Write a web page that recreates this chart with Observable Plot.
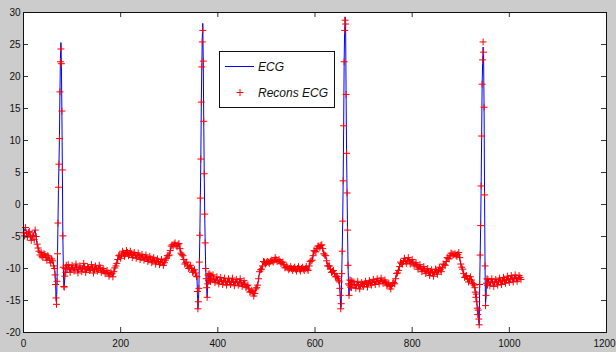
<!DOCTYPE html>
<html>
<head>
<meta charset="utf-8">
<script src="https://cdn.jsdelivr.net/npm/d3@7"></script>
<script src="https://cdn.jsdelivr.net/npm/@observablehq/plot@0.6"></script>
<style>
  body { margin: 0; background: #cccccc; }
  #wrap { position: relative; width: 616px; height: 352px; overflow: hidden; }
  #legend { position: absolute; left: 0; top: 0; pointer-events: none; }
</style>
</head>
<body>
<div id="wrap"></div>
<script>
// ---- original ECG (blue line): sample index and value ----
const ecgIdx = [
  0,4,8,12,16,20,24,28,32,36,40,44,48,52,56,60,64,
  65,66,67,68,69,70,71,72,73,74,75,76,77,78,79,80,81,82,83,84,85,86,87,88,
  92,96,100,104,108,112,116,120,124,128,132,136,140,144,148,152,156,160,164,168,
  172,176,180,184,188,192,196,200,204,208,212,216,220,224,228,232,236,240,244,248,
  252,256,260,264,268,272,276,280,284,288,292,296,300,304,308,312,316,320,324,328,
  332,336,340,344,348,352,356,
  357,358,359,360,361,362,363,364,365,366,367,368,369,370,371,372,373,374,375,376,
  377,378,379,380,381,382,383,384,385,386,
  390,394,398,402,406,410,414,418,422,426,430,434,438,442,446,450,454,458,462,466,
  470,474,478,482,486,490,494,498,502,506,510,514,518,522,526,530,534,538,542,546,
  550,554,558,562,566,570,574,578,582,586,590,594,598,602,606,610,614,618,622,626,
  630,634,638,642,646,
  649,650,651,652,653,654,655,656,657,658,659,660,661,662,663,664,665,666,667,668,
  669,670,671,672,673,674,675,676,
  680,684,688,692,696,700,704,708,712,716,720,724,728,732,736,740,744,748,752,756,
  760,764,768,772,776,780,784,788,792,796,800,804,808,812,816,820,824,828,832,836,
  840,844,848,852,856,860,864,868,872,876,880,884,888,892,896,900,904,908,912,916,
  920,924,928,
  929,930,931,932,933,934,935,936,937,938,939,940,941,942,943,944,945,946,947,948,
  949,950,951,952,953,954,955,956,
  960,964,968,972,976,980,984,988,992,996,1000,1004,1008,1012,1016,1020,1024
];
const ecgMv = [
  -4.4,-3.6,-5.1,-4.2,-5.6,-4.8,-4.0,-6.2,-7.3,-7.5,-8.3,-7.8,-8.7,-8.2,-9.1,-8.8,-10.0,
  -11.0,-12.5,-14.6,-15.6,-12.0,-7.7,-2.9,2.7,6.3,10.3,17.6,22.8,25.3,22.0,14.6,5.4,-4.9,-9.8,-12.8,-12.9,-11.2,-10.0,-10.6,-9.5,
  -9.4,-10.6,-9.5,-10.4,-9.3,-10.7,-9.6,-10.5,-9.2,-10.6,-9.7,-10.3,-9.4,-10.7,-9.6,-10.4,-9.5,-10.6,-10.0,-10.8,
  -10.3,-11.2,-10.6,-11.3,-9.9,-9.2,-8.0,-8.4,-7.3,-8.1,-7.2,-8.0,-7.3,-8.3,-7.5,-8.4,-7.6,-8.6,-7.8,-8.7,
  -7.9,-8.9,-8.1,-9.1,-8.3,-9.3,-8.5,-9.4,-8.6,-9.5,-8.7,-8.0,-7.9,-6.5,-6.5,-6.0,-6.6,-6.1,-7.6,-8.0,
  -9.3,-9.0,-10.0,-9.5,-10.6,-10.2,-11.2,
  -11.3,-13.6,-16.3,-15.2,-13.1,-9.0,-4.8,1.0,7.1,16.0,21.5,26.0,28.3,22.4,13.0,4.8,-1.5,-6.0,-10.0,-11.6,
  -13.0,-14.5,-12.4,-11.0,-11.9,-10.8,-11.8,-11.0,-12.0,-11.1,
  -11.0,-12.2,-11.3,-12.4,-11.4,-12.5,-11.5,-12.6,-11.6,-12.5,-11.5,-12.7,-11.7,-12.6,-11.6,-12.8,-11.9,-13.0,-12.6,-13.7,
  -13.4,-14.3,-13.2,-12.6,-10.5,-10.1,-8.9,-9.3,-8.9,-9.2,-8.7,-9.0,-8.3,-8.9,-8.6,-9.2,-9.0,-9.9,-9.6,-10.2,
  -9.7,-10.3,-9.8,-10.4,-9.7,-10.4,-9.8,-10.3,-9.7,-10.3,-8.9,-8.7,-7.2,-7.4,-6.5,-6.7,-6.3,-7.7,-8.0,-9.6,
  -9.6,-10.6,-10.3,-11.3,-11.3,
  -11.9,-12.1,-13.1,-14.2,-16.3,-15.5,-10.8,-7.3,-2.6,3.7,12.3,22.3,27.2,29.3,28.2,17.2,8.0,1.8,-4.0,-9.5,
  -12.4,-14.2,-12.6,-11.8,-12.9,-11.9,-13.0,-12.0,
  -12.1,-13.1,-12.0,-13.2,-12.2,-12.8,-12.0,-12.9,-11.9,-12.6,-11.7,-12.5,-11.6,-12.4,-11.5,-12.3,-11.8,-12.7,-12.3,-13.2,
  -12.3,-12.4,-10.8,-10.3,-9.0,-9.3,-8.4,-9.2,-8.3,-9.3,-8.6,-9.6,-9.1,-10.1,-9.4,-10.5,-9.7,-10.8,-10.0,-11.1,
  -10.2,-11.2,-10.1,-10.9,-9.8,-10.5,-9.3,-9.5,-8.3,-8.5,-7.6,-7.9,-7.7,-8.1,-7.5,-9.3,-10.1,-11.4,-11.1,-12.1,
  -11.3,-12.3,-12.6,
  -13.0,-13.7,-14.5,-14.0,-15.2,-16.2,-17.2,-16.5,-17.9,-18.8,-12.5,-7.9,-3.3,2.9,10.7,18.8,22.0,24.6,23.2,15.2,
  1.5,-9.6,-15.8,-14.2,-12.3,-11.6,-12.6,-11.7,
  -12.7,-11.6,-12.8,-11.7,-12.6,-11.5,-12.5,-11.4,-12.3,-11.2,-12.2,-11.1,-12.1,-11.0,-12.0,-11.1,-11.7
];

// ---- reconstructed ECG (red "+" markers): sample index and value ----
const reconIdx = [
  0,2,4,6,8,10,12,14,16,18,20,22,24,26,28,30,32,34,36,38,40,42,44,46,48,50,52,54,56,58,60,62,64,
  65,66,67,68,69,70,71,72,73,74,75,76,77,78,79,80,81,82,83,84,85,86,87,88,
  90,92,94,96,98,100,102,104,106,108,
  110,112,114,116,118,120,122,124,126,128,
  130,132,134,136,138,140,142,144,146,148,
  150,152,154,156,158,160,162,164,166,168,
  170,172,174,176,178,180,182,184,186,188,
  190,192,194,196,198,200,202,204,206,208,
  210,212,214,216,218,220,222,224,226,228,
  230,232,234,236,238,240,242,244,246,248,
  250,252,254,256,258,260,262,264,266,268,
  270,272,274,276,278,280,282,284,286,288,
  290,292,294,296,298,300,302,304,306,308,
  310,312,314,316,318,320,322,324,326,328,
  330,332,334,336,338,340,342,344,346,348,
  350,352,354,356,
  357,358,359,360,361,362,363,364,365,366,367,368,369,370,371,372,373,374,375,376,
  377,378,379,380,381,382,383,384,385,386,
  388,390,392,394,396,398,400,402,404,406,
  408,410,412,414,416,418,420,422,424,426,
  428,430,432,434,436,438,440,442,444,446,
  448,450,452,454,456,458,460,462,464,466,
  468,470,472,474,476,478,480,482,484,486,
  488,490,492,494,496,498,500,502,504,506,
  508,510,512,514,516,518,520,522,524,526,
  528,530,532,534,536,538,540,542,544,546,
  548,550,552,554,556,558,560,562,564,566,
  568,570,572,574,576,578,580,582,584,586,
  588,590,592,594,596,598,600,602,604,606,
  608,610,612,614,616,618,620,622,624,626,
  628,630,632,634,636,638,640,642,644,646,
  648,
  649,650,651,652,653,654,655,656,657,658,659,660,661,662,663,664,665,666,667,668,
  669,670,671,672,673,674,675,676,
  678,680,682,684,686,688,690,692,694,696,
  698,700,702,704,706,708,710,712,714,716,
  718,720,722,724,726,728,730,732,734,736,
  738,740,742,744,746,748,750,752,754,756,
  758,760,762,764,766,768,770,772,774,776,
  778,780,782,784,786,788,790,792,794,796,
  798,800,802,804,806,808,810,812,814,816,
  818,820,822,824,826,828,830,832,834,836,
  838,840,842,844,846,848,850,852,854,856,
  858,860,862,864,866,868,870,872,874,876,
  878,880,882,884,886,888,890,892,894,896,
  898,900,902,904,906,908,910,912,914,916,
  918,920,922,924,926,928,
  929,930,931,932,933,934,935,936,937,938,939,940,941,942,943,944,945,946,947,948,
  949,950,951,952,953,954,955,956,
  958,960,962,964,966,968,970,972,974,976,
  978,980,982,984,986,988,990,992,994,996,
  998,1000,1002,1004,1006,1008,1010,1012,1014,1016,
  1018,1020,1022,1024
];
const reconMv = [
  -4.4,-4.9,-3.6,-4.5,-5.1,-4.4,-4.2,-5.0,-5.6,-4.9,
  -4.8,-5.5,-4.0,-5.0,-6.2,-6.8,-7.3,-7.9,-7.5,-8.1,
  -8.3,-7.7,-7.8,-8.3,-8.7,-8.0,-8.2,-8.7,-9.1,-8.5,
  -8.8,-9.6,-10.0,
  -11.0,-12.5,-14.6,-15.6,-12.0,-7.7,-2.9,2.7,6.3,10.3,17.6,22.3,24.3,22.0,14.6,5.4,-4.9,-9.8,-12.8,-12.9,-11.2,-10.0,-10.6,-9.5,
  -10.1,-9.4,-9.9,-10.6,-10.1,-9.5,-9.9,-10.4,-10.2,-9.3,
  -9.8,-10.7,-10.1,-9.6,-9.9,-10.5,-10.0,-9.2,-9.8,-10.6,
  -10.2,-9.7,-9.9,-10.3,-10.1,-9.4,-9.9,-10.7,-10.2,-9.6,
  -10.0,-10.4,-10.1,-9.5,-9.9,-10.6,-10.3,-10.0,-10.4,-10.8,
  -10.6,-10.3,-10.7,-11.2,-10.9,-10.6,-10.8,-11.3,-10.5,-9.9,
  -9.6,-9.2,-8.6,-8.0,-7.9,-8.4,-7.9,-7.3,-7.6,-8.1,
  -7.7,-7.2,-7.5,-8.0,-7.8,-7.3,-7.7,-8.3,-7.9,-7.5,
  -7.9,-8.4,-8.0,-7.6,-8.0,-8.6,-8.3,-7.8,-8.2,-8.7,
  -8.4,-7.9,-8.3,-8.9,-8.6,-8.1,-8.5,-9.1,-8.8,-8.3,
  -8.7,-9.3,-8.9,-8.5,-8.9,-9.4,-9.1,-8.6,-9.0,-9.5,
  -9.1,-8.7,-8.4,-8.0,-8.0,-7.9,-7.2,-6.5,-6.3,-6.5,
  -6.2,-6.0,-6.4,-6.6,-6.3,-6.1,-6.9,-7.6,-7.8,-8.0,
  -8.6,-9.3,-9.1,-9.0,-9.6,-10.0,-9.8,-9.5,-10.0,-10.6,
  -10.4,-10.2,-10.7,-11.2,
  -11.3,-13.6,-16.3,-15.2,-13.1,-9.0,-4.8,1.0,7.1,16.0,21.5,25.4,27.2,22.4,13.0,4.8,-1.5,-6.0,-10.0,-11.6,
  -13.0,-14.5,-12.4,-11.0,-11.9,-10.8,-11.8,-11.0,-12.0,-11.1,
  -11.6,-11.0,-11.7,-12.2,-11.8,-11.3,-11.9,-12.4,-11.9,-11.4,
  -12.0,-12.5,-12.0,-11.5,-12.1,-12.6,-12.1,-11.6,-12.0,-12.5,
  -12.0,-11.5,-12.1,-12.7,-12.2,-11.7,-12.1,-12.6,-12.2,-11.6,
  -12.2,-12.8,-12.4,-11.9,-12.5,-13.0,-12.7,-12.6,-13.2,-13.7,
  -13.6,-13.4,-13.8,-14.3,-13.9,-13.2,-13.0,-12.6,-11.6,-10.5,
  -10.2,-10.1,-9.6,-8.9,-9.0,-9.3,-9.1,-8.9,-9.0,-9.2,
  -8.9,-8.7,-8.8,-9.0,-8.7,-8.3,-8.6,-8.9,-8.8,-8.6,
  -8.9,-9.2,-9.1,-9.0,-9.4,-9.9,-9.8,-9.6,-9.9,-10.2,
  -10.0,-9.7,-10.0,-10.3,-10.0,-9.8,-10.1,-10.4,-10.0,-9.7,
  -10.1,-10.4,-10.0,-9.8,-10.1,-10.3,-10.0,-9.7,-10.1,-10.3,
  -9.6,-8.9,-8.8,-8.7,-8.0,-7.2,-7.3,-7.4,-6.9,-6.5,
  -6.5,-6.7,-6.4,-6.3,-6.9,-7.7,-7.9,-8.0,-8.8,-9.6,
  -9.6,-9.6,-10.1,-10.6,-10.5,-10.3,-10.8,-11.3,-11.2,-11.3,
  -11.6,
  -11.9,-12.1,-13.1,-14.2,-16.3,-15.5,-10.8,-7.3,-2.6,3.7,12.3,22.3,27.2,28.8,28.2,17.2,8.0,1.8,-4.0,-9.5,
  -12.4,-14.2,-12.6,-11.8,-12.9,-11.9,-13.0,-12.0,
  -12.5,-12.1,-12.6,-13.1,-12.5,-12.0,-12.6,-13.2,-12.7,-12.2,
  -12.5,-12.8,-12.4,-12.0,-12.4,-12.9,-12.3,-11.9,-12.2,-12.6,
  -12.2,-11.7,-12.1,-12.5,-12.0,-11.6,-12.0,-12.4,-11.9,-11.5,
  -11.9,-12.3,-12.0,-11.8,-12.2,-12.7,-12.5,-12.3,-12.8,-13.2,
  -12.7,-12.3,-12.2,-12.4,-11.6,-10.8,-10.7,-10.3,-9.7,-9.0,
  -9.2,-9.3,-8.9,-8.4,-8.8,-9.2,-8.8,-8.3,-8.8,-9.3,
  -9.0,-8.6,-9.1,-9.6,-9.3,-9.1,-9.6,-10.1,-9.8,-9.4,
  -10.0,-10.5,-10.1,-9.7,-10.3,-10.8,-10.4,-10.0,-10.5,-11.1,
  -10.6,-10.2,-10.7,-11.2,-10.6,-10.1,-10.5,-10.9,-10.3,-9.8,
  -10.2,-10.5,-9.9,-9.3,-9.4,-9.5,-8.9,-8.3,-8.4,-8.5,
  -8.0,-7.6,-7.7,-7.9,-7.8,-7.7,-7.9,-8.1,-7.8,-7.5,
  -8.3,-9.3,-9.8,-10.1,-10.8,-11.4,-11.2,-11.1,-11.6,-12.1,
  -11.7,-11.3,-11.8,-12.3,-12.4,-12.6,
  -13.0,-13.7,-14.5,-14.0,-15.2,-16.2,-17.2,-16.5,-17.9,-18.8,-12.5,-7.9,-3.3,2.9,10.7,18.8,22.6,25.4,23.8,15.2,
  1.5,-9.6,-15.8,-14.2,-12.3,-11.6,-12.6,-11.7,
  -12.1,-12.7,-12.2,-11.6,-12.1,-12.8,-12.2,-11.7,-12.1,-12.6,
  -12.0,-11.5,-12.0,-12.5,-11.9,-11.4,-11.8,-12.3,-11.8,-11.2,
  -11.7,-12.2,-11.6,-11.1,-11.6,-12.1,-11.5,-11.0,-11.5,-12.0,
  -11.6,-11.1,-11.4,-11.7
];

const xTicks = [0, 200, 400, 600, 800, 1000, 1200];
const yTicks = [-20, -15, -10, -5, 0, 5, 10, 15, 20, 25, 30];
const seriesNames = ["ECG", "Recons ECG"];
const seriesColors = ["#0000ff", "#ff0000"];

if (ecgIdx.length !== ecgMv.length || reconIdx.length !== reconMv.length) {
  throw new Error(`length mismatch ecg ${ecgIdx.length}/${ecgMv.length} recon ${reconIdx.length}/${reconMv.length}`);
}

// ---- layout ----
const W = 616, H = 352;
const mL = 23, mT = 12, mR = 10, mB = 20;
const innerW = W - mL - mR, innerH = H - mT - mB;
const tickLen = 5;

const ecgRows = ecgIdx.map((t, i) => ({t, v: ecgMv[i]}));
const reconRows = reconIdx.map((t, i) => ({t, v: reconMv[i]}));

const plusSymbol = {
  draw(ctx, size) {
    const r = Math.sqrt(size / Math.PI);
    ctx.moveTo(-r, 0); ctx.lineTo(r, 0);
    ctx.moveTo(0, -r); ctx.lineTo(0, r);
  }
};

const fmt = d => String(d);

const chart = Plot.plot({
  width: W, height: H,
  marginLeft: mL, marginTop: mT, marginRight: mR, marginBottom: mB,
  style: {background: "#cccccc", fontFamily: "'Liberation Sans', Arial, sans-serif", fontSize: "10px", color: "#111"},
  x: {domain: [0, 1200], label: null},
  y: {domain: [-20, 30], label: null},
  marks: [
    Plot.frame({fill: "white", stroke: null}),
    Plot.line(ecgRows, {x: "t", y: "v", stroke: seriesColors[0], strokeWidth: 1}),
    Plot.dot(reconRows, {x: "t", y: "v", symbol: plusSymbol, r: 3.5, stroke: seriesColors[1], fill: "none", strokeWidth: 1}),
    Plot.tickX(xTicks, {x: d => d, insetTop: innerH - tickLen, stroke: "#333"}),
    Plot.tickX(xTicks, {x: d => d, insetBottom: innerH - tickLen, stroke: "#333"}),
    Plot.tickY(yTicks, {y: d => d, insetRight: innerW - tickLen, stroke: "#333"}),
    Plot.tickY(yTicks, {y: d => d, insetLeft: innerW - tickLen, stroke: "#333"}),
    Plot.frame({stroke: "#111"}),
    Plot.axisX(xTicks.slice(0, -1), {tickSize: 0, tickPadding: 7, label: null, tickFormat: fmt}),
    Plot.axisX(xTicks.slice(-1), {tickSize: 0, tickPadding: 7, label: null, tickFormat: fmt, dx: -2}),
    Plot.axisY(yTicks, {tickSize: 0, tickPadding: 3, label: null, tickFormat: fmt})
  ]
});

const wrap = document.getElementById("wrap");
wrap.appendChild(chart);

// ---- legend (inside the axes) ----
const leg = d3.select(wrap).append("svg")
  .attr("id", "legend").attr("width", W).attr("height", H);
leg.append("rect").attr("x", 219.5).attr("y", 51.5).attr("width", 115).attr("height", 56)
  .attr("fill", "white").attr("stroke", "#111");
leg.append("line").attr("x1", 225).attr("x2", 254).attr("y1", 66.5).attr("y2", 66.5)
  .attr("stroke", seriesColors[0]).attr("stroke-width", 1);
leg.append("path").attr("d", "M236.5,92.5h7M240,89v7")
  .attr("stroke", seriesColors[1]).attr("stroke-width", 1).attr("fill", "none");
seriesNames.forEach((name, i) => {
  leg.append("text").attr("x", 258).attr("y", i === 0 ? 71 : 97)
    .attr("font-family", "'Liberation Sans', Arial, sans-serif")
    .attr("font-size", 12).attr("font-style", "italic").attr("fill", "#111")
    .text(name);
});
</script>
</body>
</html>
